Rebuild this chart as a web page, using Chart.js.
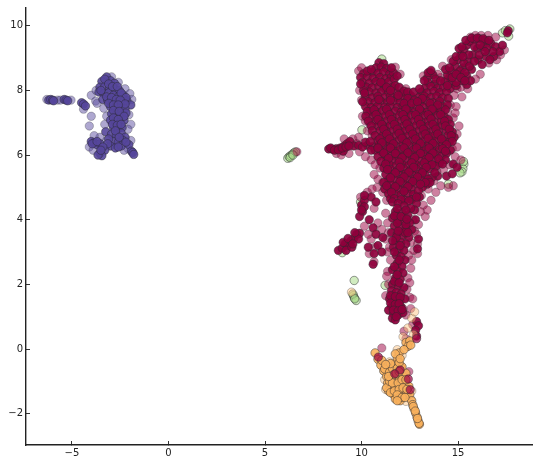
<!DOCTYPE html>
<html>
<head>
<meta charset="utf-8">
<script src="https://cdn.jsdelivr.net/npm/chart.js@4/dist/chart.umd.min.js"></script>
<style>
  html, body { margin: 0; padding: 0; background: #fff; }
  canvas { display: block; }
</style>
</head>
<body>
<canvas id="chart" width="539" height="467"></canvas>
<script>
const xTickValues = [-5, 0, 5, 10, 15];
const yTickValues = [-2, 0, 2, 4, 6, 8, 10];

// points, [x, y]
const redCore = [
  [10.9,8.86],[11.15,8.83],[10.75,8.7],[11.02,8.72],[11.3,8.68],[10.1,8.52],[10.55,8.56],[10.85,8.53],[11.15,8.57],[11.45,8.5],
  [13.55,8.55],[13.7,8.48],[9.95,8.4],[10.3,8.42],[10.6,8.37],[10.95,8.4],[11.25,8.36],[11.55,8.42],[13.4,8.38],[14.55,8.4],
  [10.05,8.25],[10.4,8.22],[10.75,8.27],[11.1,8.22],[11.4,8.26],[13.45,8.24],[13.8,8.2],[14.3,8.27],[14.7,8.22],[10.25,8.1],
  [10.55,8.08],[10.9,8.12],[11.2,8.06],[11.6,8.1],[13.3,8.08],[13.6,8.12],[13.95,8.07],[14.25,8.1],[14.6,8.06],[14.9,8.14],
  [10.4,7.95],[10.75,7.92],[11.05,7.97],[11.4,7.93],[11.75,7.96],[12.1,7.92],[13.1,7.95],[13.4,7.92],[13.75,7.97],[14.05,7.93],
  [14.4,7.96],[10.2,7.8],[10.55,7.77],[10.85,7.82],[11.2,7.78],[11.5,7.82],[11.85,7.77],[12.2,7.8],[12.55,7.84],[12.95,7.78],
  [13.25,7.82],[13.6,7.78],[13.9,7.82],[14.2,7.77],[10.35,7.65],[10.7,7.62],[11.0,7.67],[11.35,7.63],[11.65,7.66],[12.0,7.62],
  [12.35,7.67],[13.05,7.63],[13.4,7.66],[13.7,7.62],[14.05,7.66],[10.2,7.5],[10.5,7.47],[10.85,7.52],[11.2,7.48],[11.5,7.52],
  [11.85,7.47],[12.15,7.51],[12.5,7.47],[12.85,7.52],[13.2,7.48],[13.55,7.52],[13.85,7.47],[14.2,7.5],[10.45,7.35],[10.8,7.32],
  [11.1,7.37],[11.4,7.33],[11.75,7.36],[12.05,7.32],[12.4,7.37],[12.75,7.33],[13.1,7.36],[13.4,7.32],[13.75,7.37],[14.1,7.33],
  [10.55,7.2],[10.9,7.17],[11.25,7.22],[11.6,7.18],[11.95,7.21],[12.3,7.17],[12.6,7.22],[12.95,7.18],[13.3,7.21],[13.6,7.17],
  [13.95,7.22],[14.3,7.18],[10.7,7.05],[11.0,7.02],[11.35,7.07],[11.7,7.03],[12.05,7.06],[12.4,7.02],[12.75,7.07],[13.1,7.03],
  [13.45,7.06],[13.8,7.02],[14.15,7.06],[10.85,6.9],[11.2,6.87],[11.5,6.92],[11.85,6.88],[12.2,6.91],[12.5,6.87],[12.85,6.92],
  [13.2,6.88],[13.5,6.91],[13.85,6.87],[14.2,6.92],[10.95,6.75],[11.3,6.72],[11.65,6.77],[12.0,6.73],[12.3,6.76],[12.65,6.72],
  [13.0,6.77],[13.35,6.73],[13.7,6.76],[14.0,6.72],[14.4,6.76],[14.7,6.72],[11.1,6.6],[11.45,6.57],[11.8,6.62],[12.1,6.58],
  [12.45,6.61],[12.8,6.57],[13.15,6.62],[13.5,6.58],[13.8,6.61],[14.1,6.57],[14.5,6.62],[14.8,6.55],[11.25,6.45],[11.6,6.42],
  [11.95,6.47],[12.25,6.43],[12.6,6.46],[12.95,6.42],[13.3,6.47],[13.65,6.43],[13.95,6.46],[14.3,6.42],[10.3,6.3],[10.6,6.27],
  [10.9,6.32],[11.2,6.28],[11.5,6.31],[11.8,6.27],[12.15,6.32],[12.5,6.28],[12.85,6.31],[13.2,6.27],[13.5,6.32],[13.85,6.28],
  [14.2,6.31],[10.7,6.15],[11.0,6.12],[11.35,6.17],[11.7,6.13],[12.0,6.16],[12.35,6.12],[12.7,6.17],[13.05,6.13],[13.35,6.16],
  [13.7,6.12],[14.05,6.17],[11.2,6.0],[11.55,5.97],[11.85,6.02],[12.2,5.98],[12.55,6.01],[12.85,5.97],[13.2,6.02],[13.55,5.98],
  [13.85,6.01],[14.15,5.97],[11.3,5.85],[11.6,5.82],[11.95,5.87],[12.3,5.83],[12.65,5.86],[13.0,5.82],[13.35,5.87],[13.7,5.83],
  [11.45,5.7],[11.8,5.67],[12.1,5.72],[12.45,5.68],[12.8,5.71],[13.1,5.67],[13.45,5.72],[14.75,5.72],[14.95,5.62],[11.5,5.55],
  [11.85,5.52],[12.2,5.57],[12.55,5.53],[12.85,5.56],[13.2,5.52],[13.55,5.57],[11.6,5.4],[11.95,5.37],[12.3,5.42],[12.65,5.38],
  [13.0,5.41],[13.3,5.37],[14.4,5.35],[14.7,5.42],[11.4,5.25],[11.75,5.22],[12.1,5.27],[12.4,5.23],[12.75,5.26],[13.1,5.22],
  [11.5,5.1],[11.85,5.07],[12.15,5.12],[12.5,5.08],[12.85,5.11],[11.6,4.95],[11.95,4.92],[12.3,4.97],[12.6,4.93],[11.75,4.8],
  [12.05,4.77],[12.4,4.82],[12.7,4.78],[12.6,4.62],[12.25,4.6],

  // edges of the body, filled in on the second pass
  [10.1,8.0],[9.95,8.2],[10.15,7.92],[10.05,7.65],[10.3,7.35],[10.22,7.2],[10.35,7.05],[10.5,6.9],[10.55,6.75],[10.7,6.6],
  [10.85,6.45],[10.5,6.15],[10.85,5.95],[11.0,5.8],[11.15,5.6],[11.25,5.4],[11.15,5.15],[11.2,4.95],[11.4,4.8],[11.5,4.65],
  [14.5,7.75],[14.45,7.55],[14.5,7.1],[14.6,6.95],[14.55,6.4],[14.6,6.15],[14.4,6.05],[14.35,5.85],[14.05,5.75],[13.85,5.65],
  [13.95,5.35],[13.65,5.3],[13.45,5.25],[13.4,5.1],[13.15,5.0],[12.95,4.9],[13.0,4.7],[12.85,4.5],[12.75,4.3],[12.8,4.0],
  [12.6,3.7],[11.65,8.55],[11.7,8.35],[11.85,8.45],[11.75,8.15],[11.95,8.1],[12.2,7.98],[12.4,7.95],[12.7,7.95],[13.0,8.05],
  [13.25,8.3],[13.45,8.55],[13.6,8.62],[13.85,8.35],[14.1,8.3],[14.45,8.15],
  [11.55,8.7],[10.3,8.6],[10.5,8.65],[11.0,8.25],[11.3,8.1],[11.5,8.0],[11.9,7.85],[12.4,7.75],[12.75,7.7],[13.15,7.75],
  [10.9,7.72],[11.5,7.7],[12.2,7.6],[12.6,7.6],[12.9,7.65],[13.55,7.6],[13.95,7.55],[14.35,7.4],[10.65,7.4],[11.3,7.42],
  [12.3,7.42],[13.0,7.42],[13.65,7.42],[10.75,7.25],[11.45,7.25],[12.15,7.25],[12.8,7.25],[13.45,7.25],[14.1,7.25],[10.85,7.1],
  [11.55,7.1],[12.25,7.1],[12.95,7.1],[13.6,7.12],[14.3,7.05],[11.05,6.95],[11.7,6.95],[12.35,6.96],[13.05,6.95],[13.7,6.95],
  [14.35,6.9],[11.15,6.8],[11.85,6.8],[12.5,6.8],[13.2,6.8],[13.85,6.8],[14.55,6.8],[11.3,6.65],[11.95,6.67],[12.65,6.65],
  [13.3,6.65],[13.95,6.65],[14.65,6.6],[10.95,6.5],[11.45,6.5],[12.1,6.52],[12.8,6.5],[13.45,6.52],[14.15,6.5],[14.7,6.42],
  [11.05,6.38],[11.65,6.35],[12.35,6.38],[13.05,6.36],[13.7,6.36],[14.4,6.32],[10.85,6.22],[11.5,6.22],[12.2,6.22],[12.85,6.22],
  [13.5,6.22],[14.2,6.2],[11.15,6.06],[11.75,6.05],[12.4,6.07],[13.05,6.05],[13.7,6.06],[14.35,6.12],[11.4,5.9],[12.1,5.92],
  [12.75,5.92],[13.5,5.92],[14.0,5.88],[11.25,5.72],[11.95,5.78],[12.6,5.76],[13.25,5.76],[13.65,5.7],[14.2,5.72],[11.35,5.55],
  [12.0,5.62],[12.7,5.62],[13.35,5.62],[13.8,5.45],[11.75,5.45],[12.45,5.47],[13.15,5.45],[11.5,5.3],[12.2,5.32],[12.9,5.32],
  [13.55,5.15],[11.3,5.05],[12.0,5.18],[12.65,5.18],[13.3,5.15],[11.75,5.02],[12.4,5.02],[13.05,5.1],[11.55,4.85],[12.2,4.88],
  [12.85,4.7],[11.7,4.65],[12.05,4.62],[12.45,4.58],

  // left arm
  [8.3,6.19],[8.5,6.18],[8.7,6.2],[8.9,6.22],[9.1,6.28],[9.25,6.35],[9.4,6.42],[9.05,6.12],[9.6,6.28],[8.4,6.22],
  [8.6,6.15],[8.8,6.16],[9.0,6.22],[9.2,6.25],[9.35,6.28],[9.85,6.3],[10.05,6.25],[10.2,6.4],[10.45,6.42],

  // upper right arm
  [14.45,8.48],[14.65,8.6],[14.85,8.75],[15.0,8.95],[15.15,9.1],[15.3,9.25],[15.45,9.4],[15.6,9.52],[15.85,9.58],[16.1,9.6],
  [16.4,9.55],[16.7,9.45],[16.95,9.35],[15.0,8.5],[15.25,8.7],[15.5,8.9],[15.75,9.1],[16.0,9.3],[16.3,9.35],[15.2,8.3],
  [15.45,8.45],[15.7,8.65],[14.9,8.25],[15.45,8.18],[15.65,8.3],[16.05,8.95],[16.45,9.05],[16.85,9.05],[17.15,9.2],[17.3,9.4],
  [15.05,9.3],[17.6,9.85],[17.55,9.78],[14.35,8.65],[16.25,8.8],[14.75,8.9],[14.9,9.05],[15.2,9.35],[15.4,9.55],[15.7,9.62],
  [16.0,9.62],[16.3,9.6],[16.6,9.55],[15.1,8.6],[15.3,8.85],[15.55,9.1],[15.85,9.35],[16.15,9.4],[16.5,9.3],[16.8,9.2],
  [15.35,8.55],[15.6,8.75],[15.85,8.9],[16.1,9.1],[16.4,9.2],[16.65,8.95],[14.7,8.4],[14.9,8.5],[15.15,8.4],[15.35,8.3],
  [14.55,8.7],[15.25,9.05],

  // neck and the branches below the body
  [11.6,4.55],[11.9,4.5],[12.2,4.42],[12.55,4.35],[11.75,4.25],[12.1,4.22],[12.4,4.15],[11.6,4.05],[11.9,4.0],[12.2,3.95],
  [12.5,3.9],[11.7,3.8],[12.0,3.75],[12.3,3.72],[11.55,3.6],[11.85,3.55],[12.15,3.5],[12.45,3.45],[11.75,3.35],[12.05,3.3],
  [12.3,3.25],[11.65,3.15],[11.95,3.1],[12.2,3.05],[11.8,2.9],[12.05,2.85],[12.25,2.75],[11.85,2.65],[12.1,2.55],[11.6,2.45],
  [11.9,2.4],[12.15,2.35],[11.75,2.2],[12.0,2.15],[11.6,2.0],[11.9,1.95],[12.2,1.9],[11.55,1.8],[11.8,1.75],[12.05,1.7],
  [11.45,1.55],[11.7,1.5],[12.0,1.5],[12.25,1.55],[11.55,1.3],[11.8,1.28],[12.05,1.3],[11.4,1.2],[11.65,1.08],[11.9,1.05],
  [12.15,1.12],[11.6,0.95],[11.75,0.9],[12.85,0.85],[12.95,0.72],[12.8,0.58],[12.85,0.4],[11.5,1.65],[11.75,1.62],[12.0,1.6],
  [11.5,1.42],[11.75,1.38],[11.95,1.4],[11.65,1.2],[11.9,1.18],[12.1,1.22],[11.8,1.0],[11.7,2.1],[11.95,2.05],[11.85,2.3],
  [11.7,2.55],[11.95,2.75],[11.7,3.0],[12.0,3.2],[11.8,3.45],[12.25,3.6],[11.9,3.65],[11.85,3.9],[12.3,3.85],[11.7,4.12],
  [12.05,4.1],[12.3,4.3],[11.85,4.35],[11.6,3.35],[12.4,3.6],[12.35,4.02],
  [8.8,3.05],[9.0,3.12],[9.15,3.25],[9.3,3.2],[9.45,3.35],[9.6,3.42],[9.75,3.55],[9.9,3.58],[9.2,3.05],[9.5,3.15],
  [9.85,3.4],[10.0,4.45],[10.15,4.6],[10.05,4.25],[9.9,4.1],[10.15,4.4],[10.4,4.0],[10.6,3.75],[10.75,3.55],[10.85,3.2],
  [11.05,3.0],[10.65,2.95],[10.35,3.15],[11.1,3.45],[10.6,2.62],[9.05,3.3],[9.3,3.42],[9.55,3.25],[9.65,3.6],
  [12.95,3.4],[12.9,3.1],[10.5,4.7],[10.75,4.55],[10.15,4.75],[10.0,4.3]
];

const redFaint = [
  [11.75,8.72],[12.0,8.5],[12.3,8.05],[9.85,8.6],[10.0,8.7],[13.2,8.45],[14.1,8.4],[14.95,8.05],[15.2,7.8],[14.8,7.85],
  [14.6,7.55],[14.75,7.15],[14.45,7.35],[14.95,6.65],[15.05,6.9],[14.7,6.2],[14.85,5.95],[15.15,5.85],[14.55,5.7],[14.25,5.55],
  [13.9,5.5],[13.75,5.2],[13.45,4.95],[13.1,4.75],[13.2,4.45],[13.3,4.1],[12.75,3.65],[9.9,8.0],[10.0,7.7],[10.05,7.2],
  [10.2,7.05],[10.3,6.75],[10.45,6.95],[10.55,6.6],[9.85,6.55],[9.55,6.5],[9.75,6.35],[9.9,6.1],[10.2,5.95],[10.5,5.85],
  [10.95,5.6],[10.85,5.25],[10.8,5.0],[11.1,5.15],[11.1,4.85],[11.3,4.6],[11.25,4.2],[11.35,3.9],[11.25,3.4],[11.45,3.15],
  [11.5,2.75],[11.35,2.4],[11.3,2.25],[12.45,2.9],[12.55,2.5],[12.4,2.2],[12.35,1.85],[12.5,1.6],[12.55,1.25],[12.3,1.05],
  [12.65,1.55],[12.9,2.95],[12.9,3.25],[12.85,3.55],[10.85,3.9],[11.05,3.7],[10.5,3.4],[10.35,3.55],[10.15,3.8],[10.7,3.15],
  [10.4,2.95],[10.65,2.7],[9.95,4.7],[10.3,4.85],[10.65,4.35],[16.15,8.5],[15.9,8.35],[15.5,8.05],[15.15,8.1],[16.6,8.85],
  [17.0,8.95],[17.2,9.1],[17.4,9.25],[16.95,9.65],[16.55,9.7],[16.2,9.7],[15.9,9.7],[15.65,9.65],[14.65,8.95],[14.2,8.75],
  [13.95,8.5],[8.7,6.05],[8.95,6.0],[9.1,6.5],[9.35,6.05],[11.05,0.03],[12.05,-0.55],[12.45,-0.7],[12.3,0.32],[12.65,0.75],
  [6.65,6.1],[12.2,0.55],[12.15,1.25],[14.9,7.5],[14.85,7.3],[14.95,6.25],[14.75,5.05],[14.5,5.0],[14.1,5.05],[13.85,4.85],
  [13.6,4.6],[13.4,4.3],[13.05,4.25],[12.95,3.85],[10.65,5.4],[10.7,5.7],[10.55,4.95],[12.7,3.05],[12.55,3.3],[12.65,4.0],
  [11.35,3.0],[11.4,3.6],[11.4,2.0],[12.5,2.05],[12.6,2.75],[11.25,1.65]
];

const redOnOrange = [[10.87,-0.25],[12.0,-0.65],[11.72,-0.77],[12.42,-0.93],[12.52,-1.26],[12.85,0.32]];

const purpleCore = [
  [-6.2,7.7],[-6.1,7.72],[-6.0,7.7],[-5.95,7.68],[-5.4,7.72],[-5.3,7.7],[-5.22,7.68],[-4.5,7.62],[-4.4,7.58],[-4.3,7.52],
  [-3.2,8.42],[-3.45,8.28],[-3.0,8.3],[-2.8,8.22],[-3.55,8.1],[-3.3,8.12],[-3.05,8.08],[-2.75,8.02],[-2.55,8.0],[-3.6,7.95],
  [-3.35,7.9],[-3.1,7.92],[-2.85,7.85],[-2.6,7.8],[-2.35,7.85],[-3.4,7.72],[-3.15,7.7],[-2.9,7.68],[-2.65,7.62],[-2.4,7.65],
  [-2.15,7.68],[-1.95,7.55],[-3.0,7.5],[-2.75,7.45],[-2.5,7.48],[-2.25,7.42],[-2.95,7.28],[-2.7,7.25],[-2.45,7.22],[-2.2,7.3],
  [-3.0,7.08],[-2.75,7.05],[-2.5,7.0],[-2.3,7.08],[-2.85,6.85],[-2.6,6.82],[-2.4,6.85],[-3.25,6.72],[-2.95,6.65],[-2.7,6.62],
  [-2.45,6.68],[-2.25,6.55],[-2.85,6.42],[-2.6,6.4],[-2.35,6.45],[-3.0,6.28],[-2.75,6.22],[-2.45,6.28],[-3.3,6.15],[-3.55,6.05],
  [-3.45,5.98],[-3.65,6.0],[-4.0,6.42],[-3.85,6.38],[-3.7,6.32],[-3.55,6.35],[-2.05,6.32],[-1.92,6.12],[-1.85,6.08],[-1.8,6.02],
  [-3.3,8.35],[-3.1,8.2],[-2.9,8.12],[-2.65,8.12],[-2.45,7.92],[-2.2,7.78],[-3.5,8.0],[-3.2,7.8],[-2.95,7.78],[-2.7,7.72],
  [-2.5,7.7],[-2.25,7.58],[-3.1,7.6],[-2.85,7.55],[-2.6,7.55],[-2.85,7.38],[-2.55,7.35],[-2.3,7.2],[-2.85,7.15],[-2.6,7.1],
  [-2.9,6.95],[-2.65,6.92],[-2.45,6.95],[-3.1,6.5],[-2.75,6.75],[-2.55,6.55],[-3.15,6.35],[-3.4,6.25],[-2.6,6.25],[-3.5,6.15],
  [-2.2,6.4],[-3.95,6.35],[-3.7,6.42]
];

const purpleFaint = [
  [-4.0,7.85],[-3.77,7.67],[-4.0,7.2],[-4.1,6.9],[-4.4,7.42],[-5.75,7.7],[-5.6,7.7],[-5.05,7.7],[-6.3,7.72],[-3.75,8.0],
  [-2.95,8.42],[-2.6,8.25],[-2.25,8.05],[-2.0,7.9],[-1.9,7.72],[-3.7,7.6],[-3.35,7.45],[-3.2,7.2],[-2.05,7.25],[-1.95,6.95],
  [-2.1,6.8],[-3.3,6.95],[-3.55,6.55],[-3.85,6.6],[-4.1,6.25],[-3.9,6.15],[-3.2,6.45],[-2.1,6.2],[-2.3,6.15],[-1.95,6.45]
];

const orangeCore = [
  [10.7,-0.12],[10.85,-0.32],[11.0,-0.5],[11.15,-0.68],[11.3,-0.85],[11.2,-0.62],[11.45,-0.72],[11.6,-0.6],[11.75,-0.45],[11.85,-0.28],
  [11.95,-0.12],[11.75,-0.95],[11.55,-0.9],[11.35,-1.05],[11.55,-1.2],[11.4,-1.3],[11.75,-1.15],[11.95,-0.9],[12.15,-0.85],[12.3,-0.75],
  [11.65,-1.4],[11.85,-1.3],[12.05,-1.1],[12.25,-1.05],[12.45,-1.15],[11.95,-1.48],[12.15,-1.35],[12.35,-1.4],[11.75,-1.55],[12.0,-1.6],
  [12.5,-1.4],[12.6,-1.6],[12.65,-1.72],[12.72,-1.85],[12.8,-1.98],[12.87,-2.1],[12.93,-2.22],[13.0,-2.33],[12.98,-2.3],[12.3,0.2],
  [12.5,0.25],[12.4,0.08],[12.2,-0.02],[12.55,0.12],[11.85,-0.6],[12.1,-0.55],[11.5,-0.45],[11.65,-0.8],[12.25,-1.25],[11.3,-1.2],
  [11.45,-1.0],[11.6,-1.05],[11.9,-1.05],[12.1,-0.95],[12.3,-0.95],[11.8,-0.75],[11.95,-0.7],[11.4,-0.85],[11.5,-1.35],[11.7,-1.3],
  [11.95,-1.25],[12.15,-1.2],[12.35,-1.25],[11.85,-1.42],[12.1,-1.5],[12.25,-1.5],[11.85,-1.6],[11.05,-0.35],[11.25,-0.48],[11.95,-0.42],
  [11.75,-0.15],[12.0,-0.3],[12.68,-1.78],[12.78,-1.92],[12.9,-2.15]
];

const orangeFaint = [
  [12.4,0.65],[12.15,0.38],[11.85,-0.02],[12.1,-0.2],[11.45,-0.4],[12.6,-1.3],[12.3,-1.62],[12.55,-1.55],[11.2,-0.95],[11.25,-1.25],
  [12.6,0.95],[12.7,0.45],[9.48,1.76],[12.75,1.15]
];

const greenPoints = [
  [6.18,5.9],[6.25,5.95],[6.33,5.98],[6.42,6.03],[6.5,6.07],[6.58,6.1],[6.3,5.92],[6.45,6.0],
  [9.62,2.12],[9.58,1.65],[9.63,1.58],[9.72,1.5],[9.55,1.7],[9.65,1.55],
  [17.62,9.68],[17.3,9.78],[17.45,9.85],[17.68,9.9],[15.3,5.72],[15.25,5.58],[15.2,5.48],[15.28,5.8],[15.1,5.45],[10.02,6.78],
  [14.5,5.1],[11.5,-1.12],[11.22,1.97],[9.95,4.55],[9.0,2.98],[11.05,8.97]
];

const edgeColor = 'rgba(40, 40, 45, 0.6)';
const faintEdge = 'rgba(40, 40, 45, 0.35)';

function toPoints(list) {
  return list.map(p => ({ x: p[0], y: p[1] }));
}

function makeSet(list, fill, edge) {
  return {
    data: toPoints(list),
    backgroundColor: fill,
    borderColor: edge,
    borderWidth: 0.8,
    pointRadius: 4.2,
    pointHoverRadius: 4.2
  };
}

new Chart(document.getElementById('chart'), {
  type: 'scatter',
  data: {
    datasets: [
      // chart.js paints the first dataset on top
      makeSet(redOnOrange, 'rgba(158, 1, 66, 0.7)', edgeColor),
      makeSet(orangeCore, 'rgba(248, 176, 92, 0.9)', edgeColor),
      makeSet(orangeFaint, 'rgba(253, 190, 120, 0.45)', faintEdge),
      makeSet(purpleCore, 'rgba(85, 70, 155, 0.9)', edgeColor),
      makeSet(purpleFaint, 'rgba(94, 79, 162, 0.5)', faintEdge),
      makeSet(redCore, 'rgba(142, 0, 60, 0.92)', edgeColor),
      makeSet(redFaint, 'rgba(158, 1, 66, 0.5)', faintEdge),
      makeSet(greenPoints, 'rgba(171, 221, 140, 0.55)', edgeColor)
    ]
  },
  options: {
    responsive: false,
    animation: false,
    layout: { padding: { left: 0, right: 7, top: 8, bottom: 0 } },
    plugins: { legend: { display: false }, tooltip: { enabled: false } },
    scales: {
      x: {
        type: 'linear',
        min: -7.38,
        max: 18.83,
        afterBuildTicks: axis => { axis.ticks = xTickValues.map(v => ({ value: v })); },
        afterFit: axis => { axis.height = 22; axis.paddingLeft = 0; axis.paddingRight = 0; },
        border: { color: '#222', width: 1.4 },
        grid: { drawOnChartArea: false, tickLength: -4, tickColor: '#333', tickWidth: 1 },
        ticks: {
          padding: 6,
          maxRotation: 0,
          color: '#222',
          font: { family: 'DejaVu Sans', size: 10 },
          callback: v => String(v).replace('-', '\u2212')
        }
      },
      y: {
        type: 'linear',
        min: -2.97,
        max: 10.55,
        afterBuildTicks: axis => { axis.ticks = yTickValues.map(v => ({ value: v })); },
        afterFit: axis => { axis.width = 26; axis.paddingTop = 0; axis.paddingBottom = 0; },
        border: { color: '#222', width: 1.4 },
        grid: { drawOnChartArea: false, tickLength: -4, tickColor: '#333', tickWidth: 1 },
        ticks: {
          padding: 7,
          color: '#222',
          font: { family: 'DejaVu Sans', size: 10 },
          callback: v => String(v).replace('-', '\u2212')
        }
      }
    }
  }
});
</script>
</body>
</html>
